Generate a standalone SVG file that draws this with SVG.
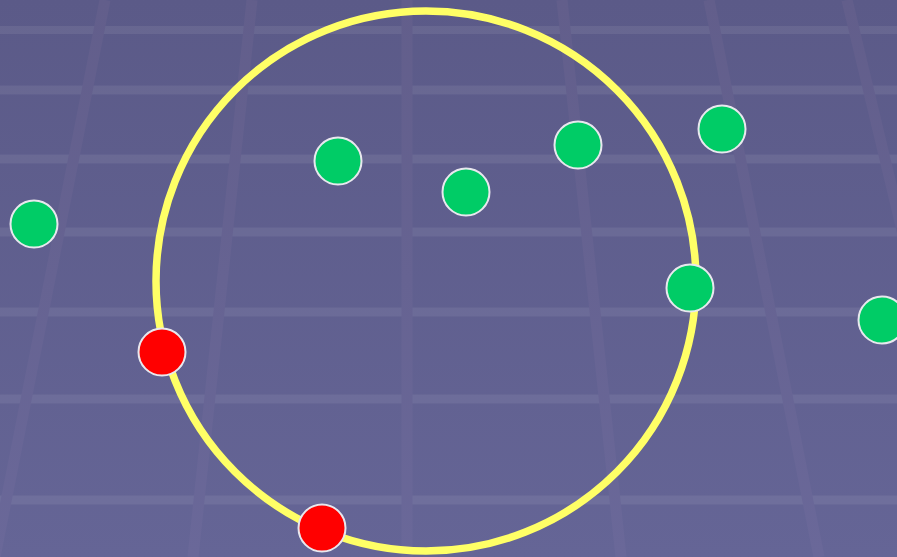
<svg xmlns="http://www.w3.org/2000/svg" width="897" height="557" viewBox="0 0 897 557">
  <defs>
    <linearGradient id="bg" x1="0" y1="0" x2="0" y2="1">
      <stop offset="0" stop-color="#5b5a88"/>
      <stop offset="1" stop-color="#656596"/>
    </linearGradient>
    <linearGradient id="vg" gradientUnits="userSpaceOnUse" x1="0" y1="0" x2="0" y2="557">
      <stop offset="0" stop-color="#625e8b"/>
      <stop offset="1" stop-color="#6a6899"/>
    </linearGradient>
    <style>
      .h { stroke: #ffffff; stroke-opacity: 0.075; stroke-width: 9; }
      .v { stroke: url(#vg); stroke-width: 11; }
      .ring { fill: none; stroke: #ffff66; stroke-width: 7.5; }
      .dot { stroke: #e8e8ee; stroke-width: 2; }
      .green { fill: #00cc66; }
      .red { fill: #ff0000; }
    </style>
  </defs>
  <rect width="897" height="557" fill="url(#bg)"/>
  <g id="grid">
    <line class="h" x1="0" y1="30" x2="897" y2="30" style="stroke-width:8"/>
    <line class="h" x1="0" y1="90" x2="897" y2="90"/>
    <line class="h" x1="0" y1="159" x2="897" y2="159"/>
    <line class="h" x1="0" y1="232" x2="897" y2="232"/>
    <line class="h" x1="0" y1="312" x2="897" y2="312"/>
    <line class="h" x1="0" y1="399" x2="897" y2="399"/>
    <line class="h" x1="0" y1="500" x2="897" y2="500"/>
    <line class="v" x1="105" y1="0" x2="-5" y2="557"/>
    <line class="v" x1="252" y1="0" x2="193" y2="557"/>
    <line class="v" x1="407" y1="0" x2="407" y2="557"/>
    <line class="v" x1="562" y1="0" x2="621" y2="557"/>
    <line class="v" x1="709" y1="0" x2="819" y2="557"/>
    <line class="v" x1="847" y1="0" x2="980" y2="557"/>
  </g>
  <g id="connectors">
    <circle id="circle" class="ring" cx="426" cy="281" r="270"/>
  </g>
  <g id="node-g1"><circle class="dot green" cx="34" cy="224" r="23.5"/></g>
  <g id="node-g2"><circle class="dot green" cx="338" cy="161" r="23.5"/></g>
  <g id="node-g3"><circle class="dot green" cx="466" cy="192" r="23.5"/></g>
  <g id="node-g4"><circle class="dot green" cx="578" cy="145" r="23.5"/></g>
  <g id="node-g5"><circle class="dot green" cx="722" cy="129" r="23.5"/></g>
  <g id="node-g6"><circle class="dot green" cx="690" cy="288" r="23.5"/></g>
  <g id="node-g7"><circle class="dot green" cx="882" cy="320" r="23.5"/></g>
  <g id="node-r1"><circle class="dot red" cx="162" cy="352" r="23.5"/></g>
  <g id="node-r2"><circle class="dot red" cx="322" cy="528" r="23.5"/></g>
</svg>
